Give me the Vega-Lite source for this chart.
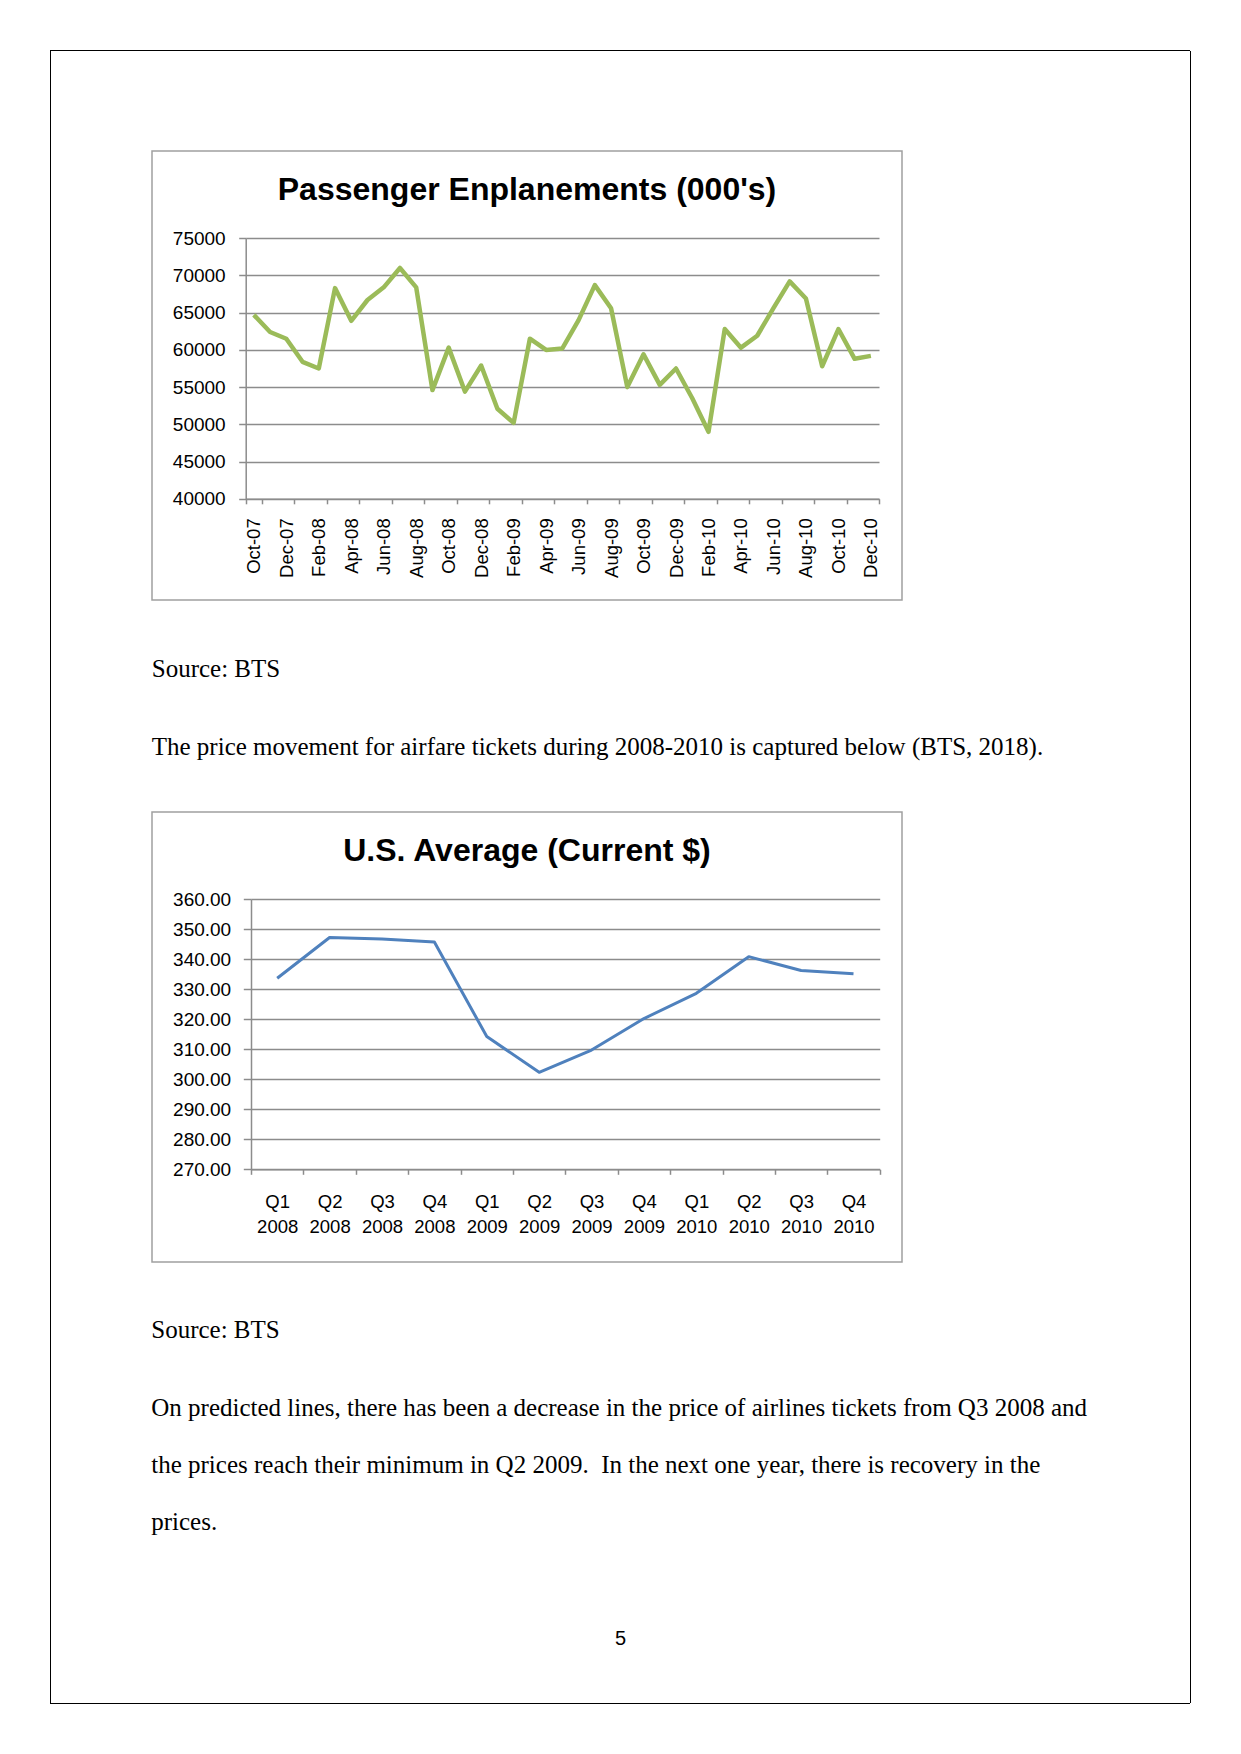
{
  "$schema": "https://vega.github.io/schema/vega-lite/v6.json",
  "background": "white",
  "padding": {"left": 50, "top": 50, "right": 51, "bottom": 50},
  "spacing": 0,
  "config": {
    "font": "Liberation Sans",
    "axis": {"labelColor": "#000000", "labelFont": "Liberation Sans", "labelOverlap": false, "domainColor": "#8c8c8c", "tickColor": "#8c8c8c", "gridColor": "#8c8c8c", "domainWidth": 1.5, "tickWidth": 1.5, "gridWidth": 1.5, "title": null}
  },
  "datasets": {
    "enplanements": [
      {"month": "Oct-07", "value": 64700}, {"month": "Nov-07", "value": 62400}, {"month": "Dec-07", "value": 61500},
      {"month": "Jan-08", "value": 58400}, {"month": "Feb-08", "value": 57500}, {"month": "Mar-08", "value": 68300},
      {"month": "Apr-08", "value": 63900}, {"month": "May-08", "value": 66700}, {"month": "Jun-08", "value": 68400},
      {"month": "Jul-08", "value": 71000}, {"month": "Aug-08", "value": 68400}, {"month": "Sep-08", "value": 54600},
      {"month": "Oct-08", "value": 60300}, {"month": "Nov-08", "value": 54400}, {"month": "Dec-08", "value": 57900},
      {"month": "Jan-09", "value": 52100}, {"month": "Feb-09", "value": 50200}, {"month": "Mar-09", "value": 61500},
      {"month": "Apr-09", "value": 60000}, {"month": "May-09", "value": 60200}, {"month": "Jun-09", "value": 64000},
      {"month": "Jul-09", "value": 68700}, {"month": "Aug-09", "value": 65600}, {"month": "Sep-09", "value": 55000},
      {"month": "Oct-09", "value": 59400}, {"month": "Nov-09", "value": 55300}, {"month": "Dec-09", "value": 57500},
      {"month": "Jan-10", "value": 53500}, {"month": "Feb-10", "value": 49000}, {"month": "Mar-10", "value": 62800},
      {"month": "Apr-10", "value": 60300}, {"month": "May-10", "value": 61900}, {"month": "Jun-10", "value": 65600},
      {"month": "Jul-10", "value": 69200}, {"month": "Aug-10", "value": 66900}, {"month": "Sep-10", "value": 57800},
      {"month": "Oct-10", "value": 62800}, {"month": "Nov-10", "value": 58800}, {"month": "Dec-10", "value": 59200}
    ],
    "fares": [
      {"quarter": "Q1 2008", "fare": 333.6}, {"quarter": "Q2 2008", "fare": 347.2}, {"quarter": "Q3 2008", "fare": 346.7},
      {"quarter": "Q4 2008", "fare": 345.7}, {"quarter": "Q1 2009", "fare": 314.2}, {"quarter": "Q2 2009", "fare": 302.3},
      {"quarter": "Q3 2009", "fare": 309.7}, {"quarter": "Q4 2009", "fare": 320.2}, {"quarter": "Q1 2010", "fare": 328.6},
      {"quarter": "Q2 2010", "fare": 340.8}, {"quarter": "Q3 2010", "fare": 336.2}, {"quarter": "Q4 2010", "fare": 335.1}
    ],
    "empty": []
  },
  "vconcat": [
    {"width": 1140, "height": 1, "data": {"name": "empty"}, "mark": "point", "view": {"fill": "#000000", "stroke": null}},
    {
      "spacing": 0,
      "title": {"text": "5", "orient": "bottom", "anchor": "middle", "frame": "bounds", "offset": -74, "font": "Liberation Sans", "fontSize": 20, "fontWeight": "normal", "color": "#000000"},
      "hconcat": [
        {"width": 1, "height": 1652, "data": {"name": "empty"}, "mark": "point", "view": {"fill": "#000000", "stroke": null}},
        {
          "spacing": 0,
          "hconcat": [
            {"width": 90.5, "height": 1, "data": {"name": "empty"}, "mark": "point", "view": {"stroke": null}},
            {
              "spacing": 0,
              "vconcat": [
                {"width": 1000, "height": 99, "data": {"name": "empty"}, "mark": "point", "view": {"stroke": null}},
                {
                  "spacing": 51,
                  "vconcat": [
                    {
                      "title": {
                        "text": "Source: BTS",
                        "subtitle": "The price movement for airfare tickets during 2008-2010 is captured below (BTS, 2018).",
                        "orient": "bottom", "anchor": "start", "frame": "bounds", "offset": 56, "dx": 9.5,
                        "font": "Liberation Serif", "fontSize": 25, "fontWeight": "normal", "color": "#000000",
                        "subtitleFont": "Liberation Serif", "subtitleFontSize": 25, "subtitleColor": "#000000", "subtitlePadding": 53
                      },
                      "vconcat": [
                        {
                          "width": 750,
                          "height": 449,
                          "view": {"stroke": "#a0a0a0", "strokeWidth": 1.5},
                          "title": {"text": "Passenger Enplanements (000's)", "orient": "top", "anchor": "middle", "frame": "group", "offset": -56, "font": "Liberation Sans", "fontSize": 32, "fontWeight": "bold", "color": "#000000"},
                          "data": {"name": "enplanements"},
                          "mark": {"type": "line", "color": "#9BBB59", "strokeWidth": 4.5, "strokeJoin": "round"},
                          "encoding": {
                            "x": {
                              "field": "month", "type": "ordinal", "sort": null, "bandPosition": 0.5,
                              "scale": {"type": "band", "range": [93.7, 727], "paddingInner": 0, "paddingOuter": 0},
                              "axis": {
                                "orient": "bottom", "offset": -101.2, "grid": false, "tickBand": "extent", "tickSize": 5, "labelPadding": 14,
                                "labelAngle": 270, "labelFontSize": 18.5,
                                "values": ["Oct-07", "Dec-07", "Feb-08", "Apr-08", "Jun-08", "Aug-08", "Oct-08", "Dec-08", "Feb-09", "Apr-09", "Jun-09", "Aug-09", "Oct-09", "Dec-09", "Feb-10", "Apr-10", "Jun-10", "Aug-10", "Oct-10", "Dec-10"]
                              }
                            },
                            "y": {
                              "field": "value", "type": "quantitative",
                              "scale": {"domain": [40000, 75000], "range": [347.8, 87.2], "nice": false, "zero": false},
                              "axis": {
                                "orient": "left", "offset": -93.7, "grid": true, "tickSize": 7, "labelPadding": 13.5, "labelFontSize": 19,
                                "format": "d", "values": [40000, 45000, 50000, 55000, 60000, 65000, 70000, 75000]
                              }
                            }
                          }
                        }
                      ]
                    },
                    {
                      "title": {
                        "text": "Source: BTS",
                        "subtitle": [
                          "On predicted lines, there has been a decrease in the price of airlines tickets from Q3 2008 and",
                          "the prices reach their minimum in Q2 2009.\u00a0 In the next one year, there is recovery in the",
                          "prices."
                        ],
                        "orient": "bottom", "anchor": "start", "frame": "bounds", "offset": 55,
                        "font": "Liberation Serif", "fontSize": 25, "fontWeight": "normal", "color": "#000000",
                        "subtitleFont": "Liberation Serif", "subtitleFontSize": 25, "subtitleColor": "#000000", "subtitlePadding": 53, "subtitleLineHeight": 57
                      },
                      "vconcat": [
                        {
                          "width": 750,
                          "height": 450,
                          "view": {"stroke": "#a0a0a0", "strokeWidth": 1.5},
                          "title": {"text": "U.S. Average (Current $)", "orient": "top", "anchor": "middle", "frame": "group", "offset": -56, "font": "Liberation Sans", "fontSize": 32, "fontWeight": "bold", "color": "#000000"},
                          "data": {"name": "fares"},
                          "mark": {"type": "line", "color": "#4F81BD", "strokeWidth": 3, "strokeJoin": "round"},
                          "encoding": {
                            "x": {
                              "field": "quarter", "type": "ordinal", "sort": null, "bandPosition": 0.5,
                              "scale": {"type": "band", "range": [99, 727.7], "paddingInner": 0, "paddingOuter": 0},
                              "axis": {
                                "orient": "bottom", "offset": -92.7, "grid": false, "tickBand": "extent", "tickSize": 5, "labelPadding": 18,
                                "labelAngle": 0, "labelFontSize": 18.5, "labelLineHeight": 25, "labelExpr": "split(datum.label, ' ')"
                              }
                            },
                            "y": {
                              "field": "fare", "type": "quantitative",
                              "scale": {"domain": [270, 360], "range": [357.3, 87], "nice": false, "zero": false},
                              "axis": {
                                "orient": "left", "offset": -99, "grid": true, "tickSize": 7.7, "labelPadding": 12.6, "labelFontSize": 19,
                                "format": ".2f", "values": [270, 280, 290, 300, 310, 320, 330, 340, 350, 360]
                              }
                            }
                          }
                        }
                      ]
                    }
                  ]
                }
              ]
            },
            {"width": 38, "height": 1, "data": {"name": "empty"}, "mark": "point", "view": {"stroke": null}}
          ]
        },
        {"width": 1, "height": 1652, "data": {"name": "empty"}, "mark": "point", "view": {"fill": "#000000", "stroke": null}}
      ]
    },
    {"width": 1140, "height": 1, "data": {"name": "empty"}, "mark": "point", "view": {"fill": "#000000", "stroke": null}}
  ]
}
